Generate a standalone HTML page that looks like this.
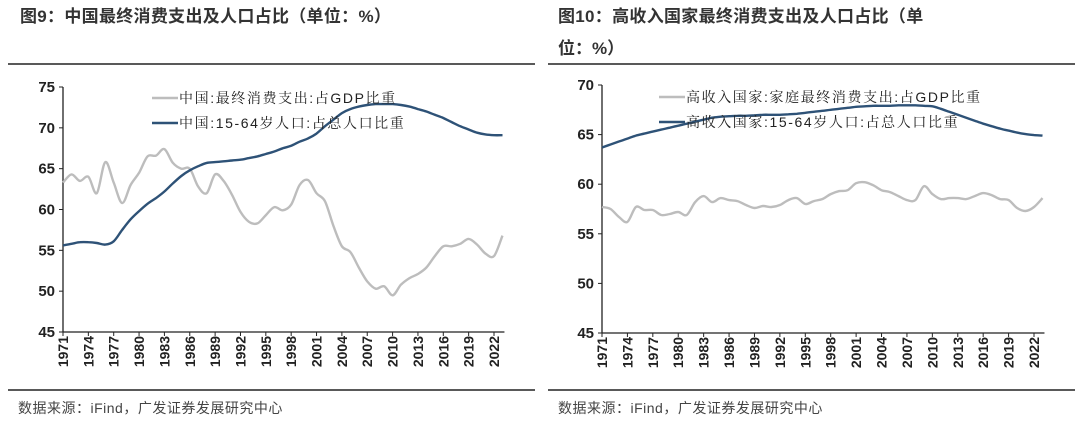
<!DOCTYPE html>
<html><head><meta charset="utf-8">
<style>
body{margin:0;background:#fff;}
#wrap{position:relative;width:1080px;height:443px;overflow:hidden;font-family:"Liberation Sans","Noto Sans CJK SC",sans-serif;}
svg text{font-family:"Liberation Sans","Noto Sans CJK SC",sans-serif;}
svg text.lg{font-family:"Liberation Sans","Noto Serif CJK SC",serif;}
</style></head>
<body>
<div id="wrap">
<svg id="svg" width="1080" height="443">
<text x="20" y="22" font-size="17" font-weight="bold" fill="#333" letter-spacing="0.3">图9：中国最终消费支出及人口占比（单位：%）</text>
<text x="558" y="22" font-size="17" font-weight="bold" fill="#333" letter-spacing="0.3">图10：高收入国家最终消费支出及人口占比（单</text>
<text x="558" y="54" font-size="17" font-weight="bold" fill="#333">位：%）</text>
<line x1="8" y1="64" x2="535" y2="64" stroke="#222" stroke-width="1.5"/>
<line x1="548" y1="64" x2="1075" y2="64" stroke="#222" stroke-width="1.5"/>
<line x1="8" y1="390" x2="535" y2="390" stroke="#222" stroke-width="1.5"/>
<line x1="548" y1="390" x2="1075" y2="390" stroke="#222" stroke-width="1.5"/>
<text x="18" y="413" font-size="14" fill="#444" letter-spacing="0.5">数据来源：iFind，广发证券发展研究中心</text>
<text x="558" y="413" font-size="14" fill="#444" letter-spacing="0.5">数据来源：iFind，广发证券发展研究中心</text>
</svg>
</div>
<script>
const years = [];
for (let y = 1971; y <= 2023; y++) years.push(y);
const cnConsumption = [63.3,64.3,63.5,64,62,65.8,63.3,60.8,63,64.5,66.5,66.6,67.4,65.7,65,65,62.8,62,64.3,63.5,61.8,59.7,58.5,58.3,59.3,60.3,59.9,60.6,63,63.6,62,61,58,55.5,54.8,52.9,51.2,50.3,50.6,49.5,50.8,51.6,52.1,52.9,54.3,55.5,55.5,55.8,56.4,55.7,54.6,54.3,56.8];
const cnWorkingAge = [55.6,55.8,56,56,55.9,55.7,56.1,57.5,58.8,59.8,60.7,61.4,62.2,63.2,64.1,64.8,65.3,65.7,65.8,65.9,66,66.1,66.3,66.5,66.8,67.1,67.5,67.8,68.3,68.7,69.3,70.2,71,71.8,72.3,72.6,72.8,72.9,72.9,72.9,72.8,72.6,72.3,72,71.6,71.2,70.7,70.2,69.8,69.4,69.2,69.1,69.1];
const hiConsumption = [57.7,57.5,56.7,56.2,57.7,57.4,57.4,56.9,57,57.2,56.9,58.2,58.8,58.2,58.6,58.4,58.3,57.9,57.6,57.8,57.7,57.9,58.4,58.6,58,58.3,58.5,59,59.3,59.4,60.1,60.2,59.9,59.4,59.2,58.8,58.4,58.4,59.8,59,58.5,58.6,58.6,58.5,58.8,59.1,58.9,58.5,58.4,57.6,57.3,57.7,58.6];
const hiWorkingAge = [63.7,64,64.3,64.6,64.9,65.1,65.3,65.5,65.7,65.9,66.1,66.3,66.5,66.7,66.8,66.85,66.9,66.9,66.95,67,67,67,67.05,67.1,67.2,67.3,67.4,67.5,67.6,67.7,67.8,67.85,67.9,67.9,67.9,67.95,67.95,67.95,67.9,67.85,67.6,67.3,67,66.7,66.4,66.1,65.85,65.6,65.4,65.2,65.05,64.95,64.9];
const cnTicks = [45,50,55,60,65,70,75];
const hiTicks = [45,50,55,60,65,70];
const xTickYears = [1971,1974,1977,1980,1983,1986,1989,1992,1995,1998,2001,2004,2007,2010,2013,2016,2019,2022];
const cnLegend = ["中国:最终消费支出:占GDP比重","中国:15-64岁人口:占总人口比重"];
const hiLegend = ["高收入国家:家庭最终消费支出:占GDP比重","高收入国家:15-64岁人口:占总人口比重"];

const NS = "http://www.w3.org/2000/svg";
const svg = document.getElementById('svg');
function mk(tag, attrs, parent) {
  const e = document.createElementNS(NS, tag);
  for (const k in attrs) e.setAttribute(k, attrs[k]);
  (parent || svg).appendChild(e);
  return e;
}
function smooth(pts) {
  let d = 'M' + pts[0][0].toFixed(1) + ',' + pts[0][1].toFixed(1);
  for (let i = 0; i < pts.length - 1; i++) {
    const p0 = pts[i - 1] || pts[i], p1 = pts[i], p2 = pts[i + 1], p3 = pts[i + 2] || p2;
    const c1x = p1[0] + (p2[0] - p0[0]) / 6, c1y = p1[1] + (p2[1] - p0[1]) / 6;
    const c2x = p2[0] - (p3[0] - p1[0]) / 6, c2y = p2[1] - (p3[1] - p1[1]) / 6;
    d += `C${c1x.toFixed(1)},${c1y.toFixed(1)} ${c2x.toFixed(1)},${c2y.toFixed(1)} ${p2[0].toFixed(1)},${p2[1].toFixed(1)}`;
  }
  return d;
}
function drawChart(p, id, ticks, gray, blue, legend) {
  const g = mk('g', {});
  
  
  const x = yr => p.x0 + (yr - 1971) * (p.x1 - p.x0) / (2022 - 1971);
  const ymin = ticks[0], ymax = ticks[ticks.length - 1];
  const y = v => p.yb - (v - ymin) * (p.yb - p.yt) / (ymax - ymin);
  const xEnd = x(2023) + 2;
  const ax = mk('line', {x1: p.x0, y1: p.yt, x2: p.x0, y2: p.yb, stroke: '#222', 'stroke-width': 1.3}, g);
  
  
  const bx = mk('line', {x1: p.x0, y1: p.yb, x2: xEnd, y2: p.yb, stroke: '#222', 'stroke-width': 1.3}, g);
  
  
  ticks.forEach(t => {
    mk('line', {x1: p.x0 - 4, y1: y(t), x2: p.x0, y2: y(t), stroke: '#222'}, g);
    const tx = mk('text', {x: p.x0 - 8, y: y(t) + 5, 'font-size': 15, 'font-weight': 'bold', 'text-anchor': 'end', fill: '#222'}, g);
    
    
    tx.textContent = t;
  });
  xTickYears.forEach(yr => {
    mk('line', {x1: x(yr), y1: p.yb, x2: x(yr), y2: p.yb + 4, stroke: '#222'}, g);
    const tx = mk('text', {x: 0, y: 0, 'font-size': 14, 'font-weight': 'bold', 'text-anchor': 'end', fill: '#222',
      transform: `translate(${x(yr) + 5},${p.yb + 4}) rotate(-90)`}, g);
    
    
    tx.textContent = yr;
  });
  const pts = arr => arr.map((v, i) => [x(years[i]), y(v)]);
  const l1 = mk('path', {d: smooth(pts(gray)), fill: 'none', stroke: '#bdbdbd', 'stroke-width': 2.4, 'stroke-linejoin': 'round'}, g);
  
  
  const l2 = mk('path', {d: smooth(pts(blue)), fill: 'none', stroke: '#2e5277', 'stroke-width': 2.4, 'stroke-linejoin': 'round'}, g);
  
  
  [['#bdbdbd', legend[0], p.ly], ['#2e5277', legend[1], p.ly + 25]].forEach((L, i) => {
    const lg = mk('g', {}, g);
    
    
    mk('line', {x1: p.lx, y1: L[2], x2: p.lx + 26, y2: L[2], stroke: L[0], 'stroke-width': 2.4}, lg);
    const t = mk('text', {x: p.lx + 27, y: L[2] + 5, 'font-size': 14, fill: '#222', 'letter-spacing': 1.6, 'class': 'lg'}, lg);
    t.textContent = L[1];
  });
}
drawChart({x0: 63, x1: 494, yt: 87, yb: 332, lx: 152, ly: 98}, 'chart9', cnTicks, cnConsumption, cnWorkingAge, cnLegend);
drawChart({x0: 602, x1: 1034, yt: 85, yb: 333, lx: 659, ly: 97}, 'chart10', hiTicks, hiConsumption, hiWorkingAge, hiLegend);
</script>
</body></html>
